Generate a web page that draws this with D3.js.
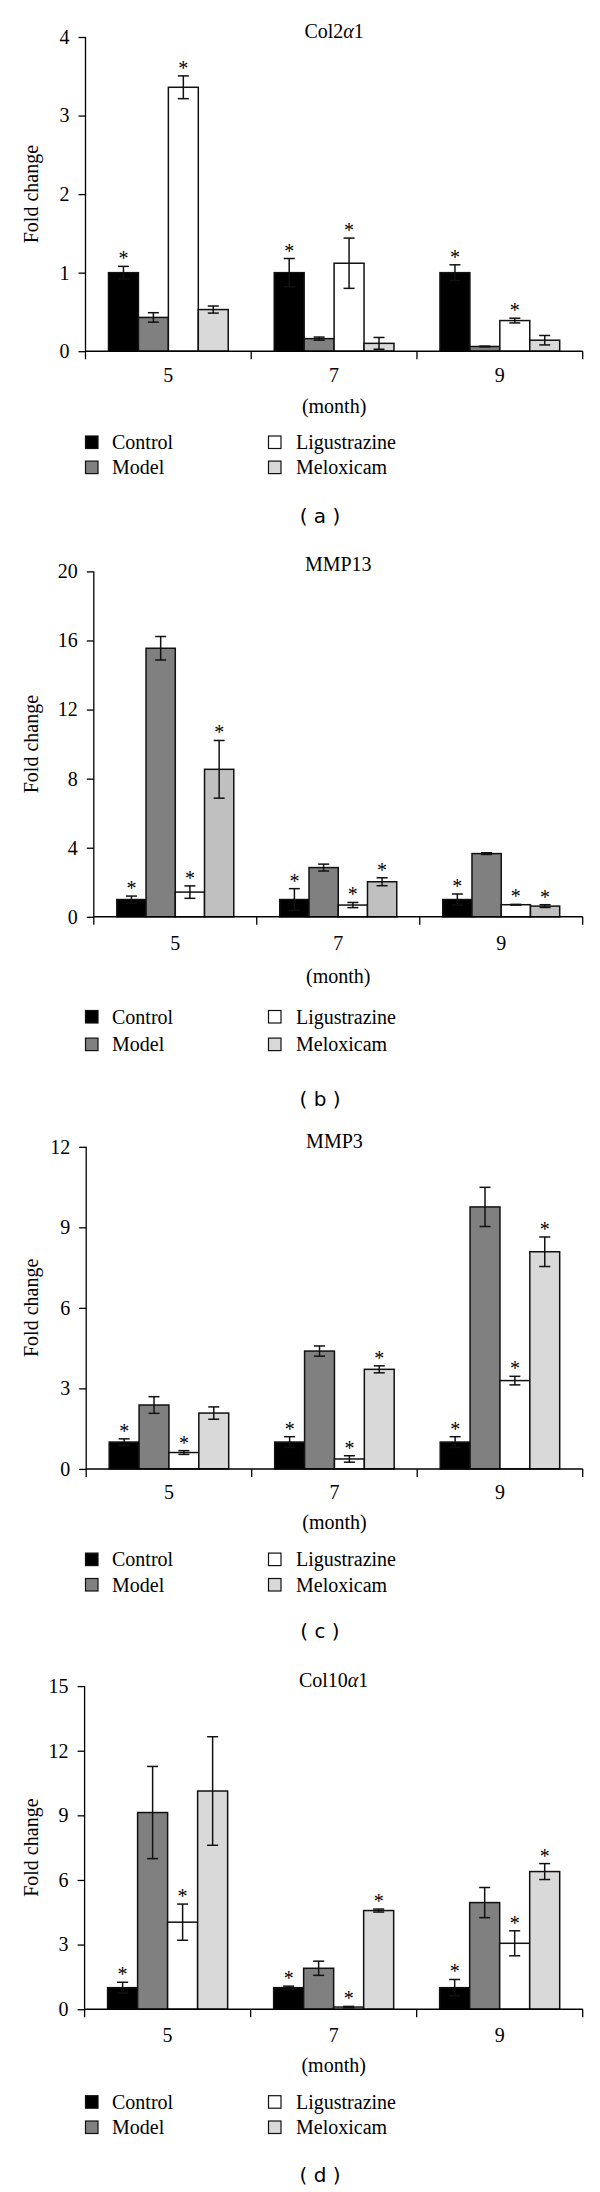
<!DOCTYPE html>
<html>
<head>
<meta charset="utf-8">
<script src="https://cdn.jsdelivr.net/npm/d3@7"></script>
<style>
  html, body { margin: 0; padding: 0; background: #fff; }
  svg { display: block; }
</style>
</head>
<body>
<svg id="chart" width="600" height="2192"></svg>
<script>
// ---------- DATA ----------
const categories = ["5", "7", "9"];
const seriesNames = ["Control", "Model", "Ligustrazine", "Meloxicam"];

// values[category][series]
const col2Values  = [[1.0, 0.43, 3.36, 0.53], [1.0, 0.16, 1.12, 0.10], [1.0, 0.06, 0.39, 0.14]];
const col2Errors  = [[0.08, 0.06, 0.145, 0.045], [0.18, 0.02, 0.32, 0.075], [0.10, 0.005, 0.03, 0.06]];
const col2Stars   = [[1, 0, 1, 0], [1, 0, 1, 0], [1, 0, 1, 0]];
const col2Ticks   = [0, 1, 2, 3, 4];

const mmp13Values = [[1.0, 15.55, 1.43, 8.54], [1.0, 2.85, 0.68, 2.03], [1.0, 3.66, 0.70, 0.62]];
const mmp13Errors = [[0.2, 0.68, 0.36, 1.67], [0.63, 0.2, 0.15, 0.23], [0.32, 0.05, 0.02, 0.08]];
const mmp13Stars  = [[1, 0, 1, 1], [1, 0, 1, 1], [1, 0, 1, 1]];
const mmp13Ticks  = [0, 4, 8, 12, 16, 20];

const mmp3Values  = [[1.0, 2.38, 0.61, 2.08], [1.0, 4.39, 0.37, 3.71], [1.0, 9.76, 3.29, 8.09]];
const mmp3Errors  = [[0.12, 0.31, 0.07, 0.23], [0.2, 0.19, 0.12, 0.13], [0.2, 0.73, 0.16, 0.55]];
const mmp3Stars   = [[1, 0, 1, 0], [1, 0, 1, 1], [1, 0, 1, 1]];
const mmp3Ticks   = [0, 3, 6, 9, 12];

const col10Values = [[1.0, 9.13, 4.04, 10.13], [1.0, 1.9, 0.1, 4.58], [1.0, 4.95, 3.06, 6.39]];
const col10Errors = [[0.25, 2.14, 0.84, 2.52], [0.07, 0.33, 0.03, 0.07], [0.38, 0.7, 0.58, 0.37]];
const col10Stars  = [[1, 0, 1, 0], [1, 0, 1, 1], [1, 0, 1, 1]];
const col10Ticks  = [0, 3, 6, 9, 12, 15];

// ---------- LAYOUT / STYLE ----------
const SERIF = "'Liberation Serif', 'Times New Roman', serif";
const SANS = "'DejaVu Sans', sans-serif";
const baseColors = ["#000000", "#808080", "#ffffff", "#d9d9d9"];

const panels = [
  { title: ["Col2", "α", "1"], values: col2Values, errors: col2Errors, stars: col2Stars, ticks: col2Ticks,
    x0: 85.5, x1: 582.7, y0: 351.2, y1: 37, titleY: 38, tickY: 382, monthY: 413,
    legY: [442.5, 467.6], caption: "( a )", capY: 523, melox: "#d9d9d9" },
  { title: ["MMP13"], values: mmp13Values, errors: mmp13Errors, stars: mmp13Stars, ticks: mmp13Ticks,
    x0: 93.8, x1: 582.7, y0: 916.8, y1: 571.4, titleY: 571, tickY: 950, monthY: 983,
    legY: [1017, 1044.6], caption: "( b )", capY: 1106, melox: "#c0c0c0" },
  { title: ["MMP3"], values: mmp3Values, errors: mmp3Errors, stars: mmp3Stars, ticks: mmp3Ticks,
    x0: 86.2, x1: 582.7, y0: 1468.9, y1: 1146.8, titleY: 1148, tickY: 1499, monthY: 1529,
    legY: [1559.6, 1585], caption: "( c )", capY: 1638, melox: "#d9d9d9" },
  { title: ["Col10", "α", "1"], values: col10Values, errors: col10Errors, stars: col10Stars, ticks: col10Ticks,
    x0: 84.6, x1: 582.7, y0: 2009.2, y1: 1686.1, titleY: 1687, tickY: 2042, monthY: 2072,
    legY: [2102.2, 2127.5], caption: "( d )", capY: 2182, melox: "#d9d9d9" }
];

const svg = d3.select("#chart");

panels.forEach(p => {
  const g = svg.append("g");
  const colors = [baseColors[0], baseColors[1], baseColors[2], p.melox];

  const y = d3.scaleLinear()
    .domain([p.ticks[0], p.ticks[p.ticks.length - 1]])
    .range([p.y0, p.y1]);

  const xBand = d3.scaleBand().domain(categories).range([p.x0, p.x1]).paddingInner(0).paddingOuter(0);
  const bw = xBand.bandwidth();
  const inset = 23;
  const xSeries = d3.scaleBand().domain(seriesNames).range([inset, bw - inset]).padding(0);

  // Y axis
  const yAxis = d3.axisLeft(y).tickValues(p.ticks).tickSize(7).tickPadding(9).tickFormat(d3.format("d"));
  const ya = g.append("g").attr("transform", `translate(${p.x0},0)`).call(yAxis);
  ya.select(".domain").remove();
  ya.selectAll(".tick line").attr("stroke", "#000").attr("stroke-width", 1.3);
  ya.selectAll(".tick text").attr("font-family", SERIF).attr("font-size", 20).attr("fill", "#000");
  g.append("line").attr("x1", p.x0).attr("x2", p.x0).attr("y1", p.y1).attr("y2", p.y0 + 8)
    .attr("stroke", "#000").attr("stroke-width", 1.3);

  // Bars
  const rows = [];
  categories.forEach((c, ci) => {
    seriesNames.forEach((s, si) => {
      rows.push({ c, s, si, v: p.values[ci][si], e: p.errors[ci][si], star: p.stars[ci][si] });
    });
  });

  g.selectAll("rect.bar").data(rows).enter().append("rect")
    .attr("class", "bar")
    .attr("x", d => xBand(d.c) + xSeries(d.s))
    .attr("width", xSeries.bandwidth())
    .attr("y", d => y(d.v))
    .attr("height", d => y(0) - y(d.v))
    .attr("fill", d => colors[d.si])
    .attr("stroke", "#111")
    .attr("stroke-width", 1.5);

  // Error bars
  const cap = 5.5;
  const cxOf = d => xBand(d.c) + xSeries(d.s) + xSeries.bandwidth() / 2;
  const eg = g.selectAll("g.err").data(rows).enter().append("g").attr("class", "err")
    .attr("stroke", "#111").attr("stroke-width", 1.5);
  eg.append("line")
    .attr("x1", cxOf).attr("x2", cxOf)
    .attr("y1", d => y(d.v + d.e)).attr("y2", d => y(Math.max(0, d.v - d.e)));
  eg.append("line")
    .attr("x1", d => cxOf(d) - cap).attr("x2", d => cxOf(d) + cap)
    .attr("y1", d => y(d.v + d.e)).attr("y2", d => y(d.v + d.e));
  eg.append("line")
    .attr("x1", d => cxOf(d) - cap).attr("x2", d => cxOf(d) + cap)
    .attr("y1", d => y(Math.max(0, d.v - d.e))).attr("y2", d => y(Math.max(0, d.v - d.e)));

  // Asterisks
  g.selectAll("text.star").data(rows.filter(d => d.star)).enter().append("text")
    .attr("class", "star")
    .attr("x", cxOf)
    .attr("y", d => y(d.v + d.e) - 1)
    .attr("text-anchor", "middle")
    .attr("font-family", SERIF).attr("font-size", 20).attr("fill", "#000")
    .text("*");

  // X axis
  g.append("line").attr("x1", p.x0).attr("x2", p.x1).attr("y1", p.y0).attr("y2", p.y0)
    .attr("stroke", "#000").attr("stroke-width", 1.5);
  const bounds = categories.map(c => xBand(c)).concat([p.x1]);
  g.selectAll("line.xt").data(bounds.slice(1)).enter().append("line")
    .attr("x1", d => d).attr("x2", d => d).attr("y1", p.y0).attr("y2", p.y0 + 8)
    .attr("stroke", "#000").attr("stroke-width", 1.3);
  g.selectAll("text.xl").data(categories).enter().append("text")
    .attr("x", d => xBand(d) + bw / 2).attr("y", p.tickY)
    .attr("text-anchor", "middle").attr("font-family", SERIF).attr("font-size", 20).attr("fill", "#000")
    .text(d => d);

  const cx = (p.x0 + p.x1) / 2;
  g.append("text").attr("x", cx).attr("y", p.monthY).attr("text-anchor", "middle")
    .attr("font-family", SERIF).attr("font-size", 20).text("(month)");

  // Title
  const t = g.append("text").attr("x", cx).attr("y", p.titleY).attr("text-anchor", "middle")
    .attr("font-family", SERIF).attr("font-size", 20);
  p.title.forEach(part => {
    const ts = t.append("tspan").text(part);
    if (part === "α") ts.attr("font-style", "italic");
  });

  // Y label
  g.append("text")
    .attr("transform", `translate(38, ${(p.y0 + p.y1) / 2}) rotate(-90)`)
    .attr("text-anchor", "middle").attr("font-family", SERIF).attr("font-size", 20)
    .text("Fold change");

  // Legend
  const legPos = [
    { sx: 85.5, tx: 112, row: 0 }, { sx: 85.5, tx: 112, row: 1 },
    { sx: 268.5, tx: 296, row: 0 }, { sx: 268.5, tx: 296, row: 1 }
  ];
  const lg = g.selectAll("g.leg").data(seriesNames).enter().append("g").attr("class", "leg");
  lg.append("rect")
    .attr("x", (d, i) => legPos[i].sx).attr("y", (d, i) => p.legY[legPos[i].row] - 6.5)
    .attr("width", 12.5).attr("height", 12.5)
    .attr("fill", (d, i) => i === 3 ? "#d9d9d9" : colors[i]).attr("stroke", "#111").attr("stroke-width", 1.2);
  lg.append("text")
    .attr("x", (d, i) => legPos[i].tx).attr("y", (d, i) => p.legY[legPos[i].row] + 6.5)
    .attr("font-family", SERIF).attr("font-size", 20).text(d => d);

  // Caption
  g.append("text").attr("x", 320).attr("y", p.capY).attr("text-anchor", "middle")
    .attr("font-family", SANS).attr("font-size", 20).attr("xml:space", "preserve").text(p.caption);
});
</script>
</body>
</html>
